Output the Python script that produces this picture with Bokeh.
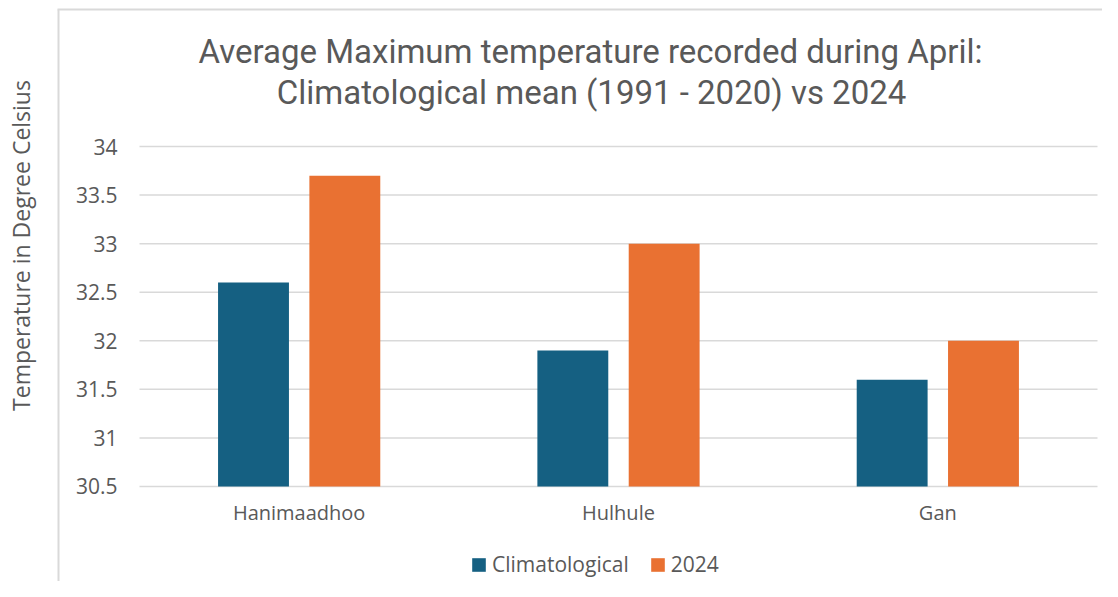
import math
from bokeh.plotting import figure
from bokeh.models import (ColumnDataSource, Label, Legend, LegendItem, FixedTicker,
                          BoxAnnotation, Range1d)
from bokeh.transform import dodge
from bokeh.embed import file_html
from bokeh.resources import INLINE

stations = ["Hanimaadhoo", "Hulhule", "Gan"]
climatological = [32.6, 31.9, 31.6]
year_2024 = [33.7, 33.0, 32.0]
y_ticks = [30.5, 31, 31.5, 32, 32.5, 33, 33.5, 34]
y_tick_labels = ["30.5", "31", "31.5", "32", "32.5", "33", "33.5", "34"]
series_names = ["Climatological", "2024"]
title_lines = ["Average Maximum temperature recorded during April:",
               "Climatological mean (1991 - 2020) vs 2024"]
y_title = "Temperature in Degree Celsius"

BLUE = "#156082"
ORANGE = "#E97132"
GRAY = "#595959"
GRID = "#d9d9d9"
FONT = "Open Sans"
TFONT = "Roboto"

W, H = 1102, 581
Y_MIN = y_ticks[0]
# category slots 0..3 occupy the plotting area; extra room around it holds titles, labels, legend
X_RANGE = Range1d(-0.4353, 3.0157)
Y_RANGE = Range1d(29.522, 35.503)

x_pos = [i + 0.5 for i in range(len(stations))]
src = ColumnDataSource(dict(x=x_pos, station=stations, clim=climatological, y2024=year_2024))
grid_src = ColumnDataSource(dict(y=y_ticks, x0=[0] * len(y_ticks), x1=[len(stations)] * len(y_ticks)))

p = figure(x_range=X_RANGE, y_range=Y_RANGE, width=W, height=H,
           output_backend="svg", toolbar_location=None,
           min_border_left=0, min_border_right=0, min_border_top=0, min_border_bottom=0)
p.outline_line_color = None
p.background_fill_color = "white"
p.border_fill_color = "white"
p.xgrid.visible = False
p.ygrid.visible = False

# horizontal gridlines at the tick values, spanning the category slots
p.segment(x0="x0", x1="x1", y0="y", y1="y", source=grid_src, line_color=GRID, line_width=1.5)

r1 = p.vbar(x=dodge("x", -0.143), top="clim", bottom=Y_MIN, width=0.222,
            source=src, fill_color=BLUE, line_color=None)
r2 = p.vbar(x=dodge("x", 0.143), top="y2024", bottom=Y_MIN, width=0.222,
            source=src, fill_color=ORANGE, line_color=None)

# y axis, pinned to the left edge of the category area
p.yaxis.fixed_location = 0
p.yaxis.ticker = FixedTicker(ticks=y_ticks)
p.yaxis.major_label_overrides = {t: s for t, s in zip(y_ticks, y_tick_labels)}
p.yaxis.axis_line_color = None
p.yaxis.major_tick_line_color = None
p.yaxis.minor_tick_line_color = None
p.yaxis.major_tick_out = 0
p.yaxis.major_tick_in = 0
p.yaxis.major_label_standoff = 22
p.yaxis.major_label_text_font = FONT
p.yaxis.major_label_text_font_size = "21px"
p.yaxis.major_label_text_color = GRAY

# x axis, pinned to the baseline value
p.xaxis.fixed_location = Y_MIN
p.xaxis.ticker = FixedTicker(ticks=x_pos)
p.xaxis.major_label_overrides = {x: s for x, s in zip(x_pos, stations)}
p.xaxis.axis_line_color = None
p.xaxis.major_tick_line_color = None
p.xaxis.minor_tick_line_color = None
p.xaxis.major_tick_out = 0
p.xaxis.major_tick_in = 0
p.xaxis.major_label_standoff = 13
p.xaxis.major_label_text_font = FONT
p.xaxis.major_label_text_font_size = "20px"
p.xaxis.major_label_text_color = GRAY

# y title
p.add_layout(Label(x=20, y=336, x_units="screen", y_units="screen", text=y_title,
                   angle=math.pi / 2, text_align="center", text_baseline="middle",
                   text_font=FONT, text_font_size="23px", text_color=GRAY))

# chart title
for line, yy, xx in zip(title_lines, [530, 489], [590, 591]):
    p.add_layout(Label(x=xx, y=yy, x_units="screen", y_units="screen", text=line,
                       text_align="center", text_baseline="alphabetic",
                       text_font=TFONT, text_font_size="33px", text_color=GRAY))

# sheet border lines
p.add_layout(BoxAnnotation(left=57, right=59, bottom=0, top=572,
                           left_units="screen", right_units="screen",
                           bottom_units="screen", top_units="screen",
                           fill_color=GRID, fill_alpha=1, line_color=None, level="underlay"))
p.add_layout(BoxAnnotation(left=57, right=W, bottom=571, top=573,
                           left_units="screen", right_units="screen",
                           bottom_units="screen", top_units="screen",
                           fill_color=GRID, fill_alpha=1, line_color=None, level="underlay"))

legend = Legend(items=[LegendItem(label=series_names[0], renderers=[r1]),
                       LegendItem(label=series_names[1], renderers=[r2])],
                location=(470, 3), orientation="horizontal",
                glyph_width=17, glyph_height=17, label_standoff=5, spacing=20,
                padding=0, margin=0, border_line_color=None, background_fill_alpha=0,
                label_text_font=FONT, label_text_font_size="21px", label_text_color=GRAY)
p.add_layout(legend, "center")

open("out.html", "w").write(file_html(p, INLINE))
